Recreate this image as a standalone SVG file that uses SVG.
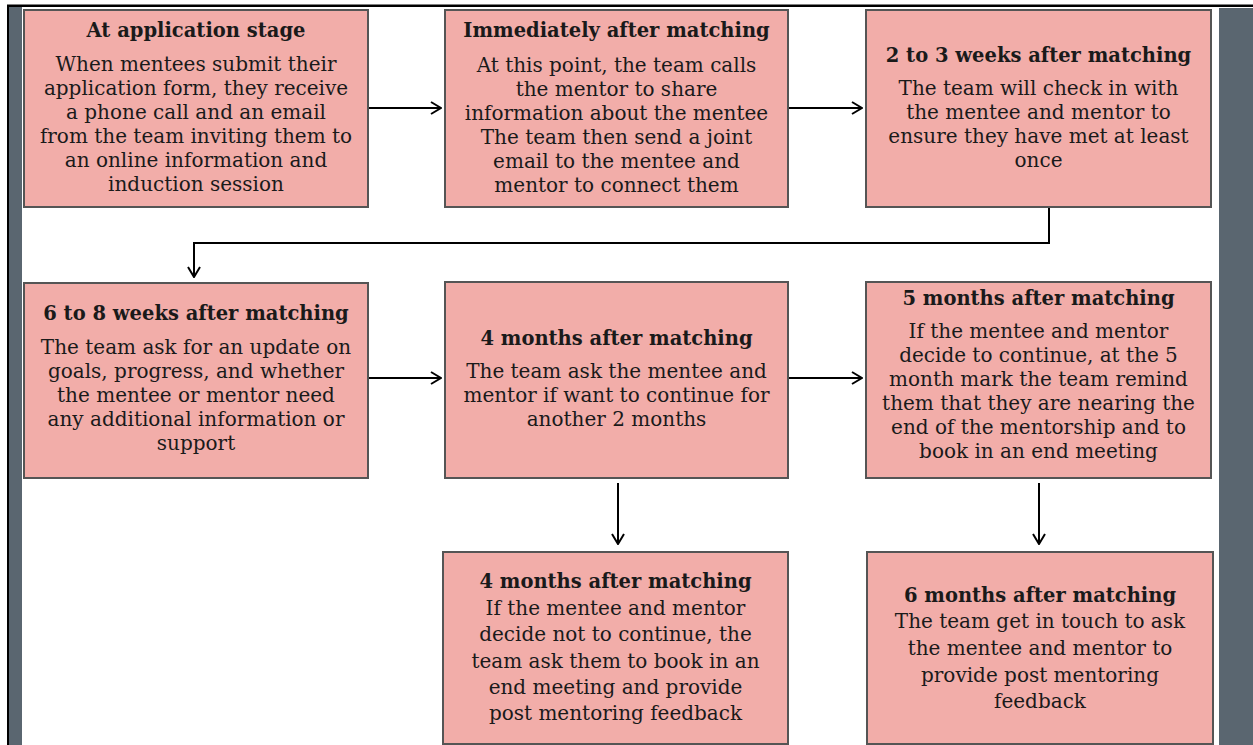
<svg xmlns="http://www.w3.org/2000/svg" width="1253" height="745" viewBox="0 0 1253 745">
<defs>
<style>
.box{fill:#F2ADA9;stroke:#555555;stroke-width:2}
.t{font-family:"DejaVu Serif",serif;font-weight:bold;font-size:19.5px;fill:#1a1a1a;text-anchor:middle}
.b{font-family:"DejaVu Serif",serif;font-size:20px;fill:#1a1a1a;text-anchor:middle}
.c{fill:none;stroke:#000;stroke-width:2}
</style>
<marker id="ah" viewBox="0 0 12 14" refX="11" refY="7" markerWidth="12" markerHeight="14" markerUnits="userSpaceOnUse" orient="auto">
<path d="M1,1 L11,7 L1,13" fill="none" stroke="#000" stroke-width="2"/>
</marker>
</defs>
<rect x="0" y="0" width="1253" height="745" fill="#ffffff"/>
<rect x="9" y="7" width="13" height="738" fill="#5A6670"/>
<rect x="7" y="5" width="2" height="740" fill="#000"/>
<rect x="1219" y="8" width="34" height="737" fill="#5A6670"/>
<rect x="7" y="4.5" width="1246" height="2.5" fill="#000"/>

<g id="connectors">
<path class="c" d="M368,108 H441" marker-end="url(#ah)"/>
<path class="c" d="M788,108 H862" marker-end="url(#ah)"/>
<path class="c" d="M1049,207 V243 H194 V277" marker-end="url(#ah)"/>
<path class="c" d="M368,378 H441" marker-end="url(#ah)"/>
<path class="c" d="M788,378 H862" marker-end="url(#ah)"/>
<path class="c" d="M618,483 V544" marker-end="url(#ah)"/>
<path class="c" d="M1039,483 V544" marker-end="url(#ah)"/>
</g>

<g id="node1">
<rect class="box" x="24" y="10" width="344" height="197"/>
<text class="t" x="196" y="37">At application stage</text>
<text class="b" x="196" y="71">When mentees submit their</text>
<text class="b" x="196" y="95">application form, they receive</text>
<text class="b" x="196" y="119">a phone call and an email</text>
<text class="b" x="196" y="143">from the team inviting them to</text>
<text class="b" x="196" y="167">an online information and</text>
<text class="b" x="196" y="191">induction session</text>
</g>

<g id="node2">
<rect class="box" x="445" y="10" width="343" height="197"/>
<text class="t" x="616.5" y="37">Immediately after matching</text>
<text class="b" x="616.5" y="72">At this point, the team calls</text>
<text class="b" x="616.5" y="96">the mentor to share</text>
<text class="b" x="616.5" y="120">information about the mentee</text>
<text class="b" x="616.5" y="144">The team then send a joint</text>
<text class="b" x="616.5" y="168">email to the mentee and</text>
<text class="b" x="616.5" y="192">mentor to connect them</text>
</g>

<g id="node3">
<rect class="box" x="866" y="10" width="345" height="197"/>
<text class="t" x="1038.5" y="62">2 to 3 weeks after matching</text>
<text class="b" x="1038.5" y="95">The team will check in with</text>
<text class="b" x="1038.5" y="119">the mentee and mentor to</text>
<text class="b" x="1038.5" y="143">ensure they have met at least</text>
<text class="b" x="1038.5" y="167">once</text>
</g>

<g id="node4">
<rect class="box" x="24" y="283" width="344" height="195"/>
<text class="t" x="196" y="320">6 to 8 weeks after matching</text>
<text class="b" x="196" y="354">The team ask for an update on</text>
<text class="b" x="196" y="378">goals, progress, and whether</text>
<text class="b" x="196" y="402">the mentee or mentor need</text>
<text class="b" x="196" y="426">any additional information or</text>
<text class="b" x="196" y="450">support</text>
</g>

<g id="node5">
<rect class="box" x="445" y="282" width="343" height="196"/>
<text class="t" x="616.5" y="345">4 months after matching</text>
<text class="b" x="616.5" y="378">The team ask the mentee and</text>
<text class="b" x="616.5" y="402">mentor if want to continue for</text>
<text class="b" x="616.5" y="426">another 2 months</text>
</g>

<g id="node6">
<rect class="box" x="866" y="282" width="345" height="196"/>
<text class="t" x="1038.5" y="305">5 months after matching</text>
<text class="b" x="1038.5" y="338">If the mentee and mentor</text>
<text class="b" x="1038.5" y="362">decide to continue, at the 5</text>
<text class="b" x="1038.5" y="386">month mark the team remind</text>
<text class="b" x="1038.5" y="410">them that they are nearing the</text>
<text class="b" x="1038.5" y="434">end of the mentorship and to</text>
<text class="b" x="1038.5" y="458">book in an end meeting</text>
</g>

<g id="node7">
<rect class="box" x="443" y="552" width="345" height="192"/>
<text class="t" x="615.5" y="588">4 months after matching</text>
<text class="b" x="615.5" y="615">If the mentee and mentor</text>
<text class="b" x="615.5" y="641">decide not to continue, the</text>
<text class="b" x="615.5" y="668">team ask them to book in an</text>
<text class="b" x="615.5" y="694">end meeting and provide</text>
<text class="b" x="615.5" y="720">post mentoring feedback</text>
</g>

<g id="node8">
<rect class="box" x="867" y="552" width="346" height="192"/>
<text class="t" x="1040" y="602">6 months after matching</text>
<text class="b" x="1040" y="628">The team get in touch to ask</text>
<text class="b" x="1040" y="655">the mentee and mentor to</text>
<text class="b" x="1040" y="682">provide post mentoring</text>
<text class="b" x="1040" y="708">feedback</text>
</g>
</svg>
